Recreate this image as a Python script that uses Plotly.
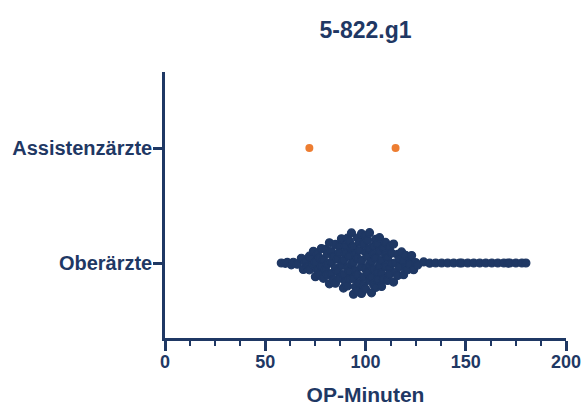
import math
import plotly.graph_objects as go

# --- data -------------------------------------------------------------
title_text = "5-822.g1"
categories = ["Oberärzte", "Assistenzärzte"]
x_title = "OP-Minuten"
x_ticks = [0, 50, 100, 150, 200]

# operation durations in minutes
oberaerzte = [
    58, 60, 61,
    63, 64, 66, 68, 69,
    70, 71, 72, 72, 73, 74, 74, 75, 75, 76, 76, 77, 77, 78, 78, 79, 79,
    80, 80, 81, 81, 81, 82, 82, 83, 83, 83, 84, 84, 85, 85, 85,
    86, 86, 87, 87, 87, 88, 88, 89, 89, 89,
    90, 90, 90, 91, 91, 91, 92, 92, 92, 92, 93, 93, 93, 94, 94, 94, 94,
    95, 95, 95, 96, 96, 96, 96, 97, 97, 97, 98, 98, 98, 98, 99, 99, 99,
    100, 100, 100, 100, 101, 101, 101, 102, 102, 102, 102, 103, 103, 103,
    104, 104, 104, 104, 105, 105, 105, 106, 106, 106, 107, 107, 107,
    108, 108, 108, 109, 109,
    110, 110, 110, 111, 111, 112, 112, 112, 113, 113, 114, 114,
    115, 115, 116, 116, 117, 117, 118, 119, 119,
    120, 120, 121, 122, 122, 123, 124, 125, 126,
    129, 132, 135, 138, 141, 144, 147, 148, 151, 154, 157, 160, 163, 166,
    169, 171, 172, 175, 178, 180,
]
assistenzaerzte = [72, 115]

NAVY = "#1F3864"
ORANGE = "#ED7D31"
FONT = "Liberation Sans, Arial, sans-serif"

# plot geometry (pixels per data unit) used for the point spread
W, H = 583, 406
ML, MR, MT, MB = 165, 17, 72, 68
X_RANGE = [0, 200]
Y_RANGE = [-0.652, 1.661]
px_per_y = (H - MT - MB) / (Y_RANGE[1] - Y_RANGE[0])


def van_der_corput(k, base=2):
    q, denom = 0.0, 1.0
    while k:
        denom *= base
        k, r = divmod(k, base)
        q += r / denom
    return q


def sina_offsets(values, half_width_px, bandwidth, floor=0.12):
    """Spread points vertically inside their density envelope (sina plot)."""
    def kde(x):
        return sum(math.exp(-0.5 * ((x - v) / bandwidth) ** 2) for v in values)

    lo, hi = min(values), max(values)
    peak = max(kde(lo + (hi - lo) * t / 400) for t in range(401))
    ranked = sorted(range(len(values)), key=lambda i: values[i])
    offsets = [0.0] * len(values)
    for k, i in enumerate(ranked):
        u = 2 * van_der_corput(k + 1) - 1
        rel = max(kde(values[i]) / peak - floor, 0.0) / (1 - floor)
        offsets[i] = half_width_px * rel * u
    return offsets


ober_y = [0 + o / px_per_y for o in sina_offsets(oberaerzte, 33, 5.0)]
assi_y = [1.0 for _ in assistenzaerzte]

fig = go.Figure()
fig.add_trace(go.Scatter(
    x=oberaerzte, y=ober_y, mode="markers",
    marker=dict(size=8, color=NAVY, line=dict(color=NAVY, width=1.2)),
    hoverinfo="x", showlegend=False,
))
fig.add_trace(go.Scatter(
    x=assistenzaerzte, y=assi_y, mode="markers",
    marker=dict(size=8, color=ORANGE, line=dict(width=0)),
    hoverinfo="x", showlegend=False,
))

fig.update_layout(
    width=W, height=H,
    margin=dict(l=ML, r=MR, t=MT, b=MB, autoexpand=False),
    paper_bgcolor="white", plot_bgcolor="white",
    font=dict(family=FONT, color=NAVY),
    title=dict(
        text=f"<b>{title_text}</b>", x=(ML + (W - MR)) / 2 / W, xanchor="center",
        y=1 - 30 / H, yanchor="middle", yref="container",
        font=dict(size=23, family=FONT, color=NAVY),
    ),
    xaxis=dict(
        range=X_RANGE, showgrid=False, zeroline=False, automargin=False,
        showline=True, linecolor=NAVY, linewidth=2.5,
        ticks="outside", ticklen=10, tickwidth=2.5, tickcolor=NAVY,
        ticklabelstandoff=-4,
        tickvals=x_ticks, ticktext=[f"<b>{v}</b>" for v in x_ticks],
        tickfont=dict(size=18, family=FONT, color=NAVY),
        minor=dict(dtick=12.5, tick0=0, ticks="outside", ticklen=5,
                   tickwidth=2, tickcolor=NAVY, showgrid=False),
        title=dict(text=f"<b>{x_title}</b>", standoff=18,
                   font=dict(size=21, family=FONT, color=NAVY)),
    ),
    yaxis=dict(
        range=Y_RANGE, showgrid=False, zeroline=False, automargin=False,
        showline=True, linecolor=NAVY, linewidth=2.5,
        ticks="outside", ticklen=9, tickwidth=2.5, tickcolor=NAVY,
        ticklabelstandoff=-3,
        tickvals=[0, 1], ticktext=[f"<b>{c}</b>" for c in categories],
        tickfont=dict(size=20, family=FONT, color=NAVY),
    ),
)

fig.write_html("out.html")
